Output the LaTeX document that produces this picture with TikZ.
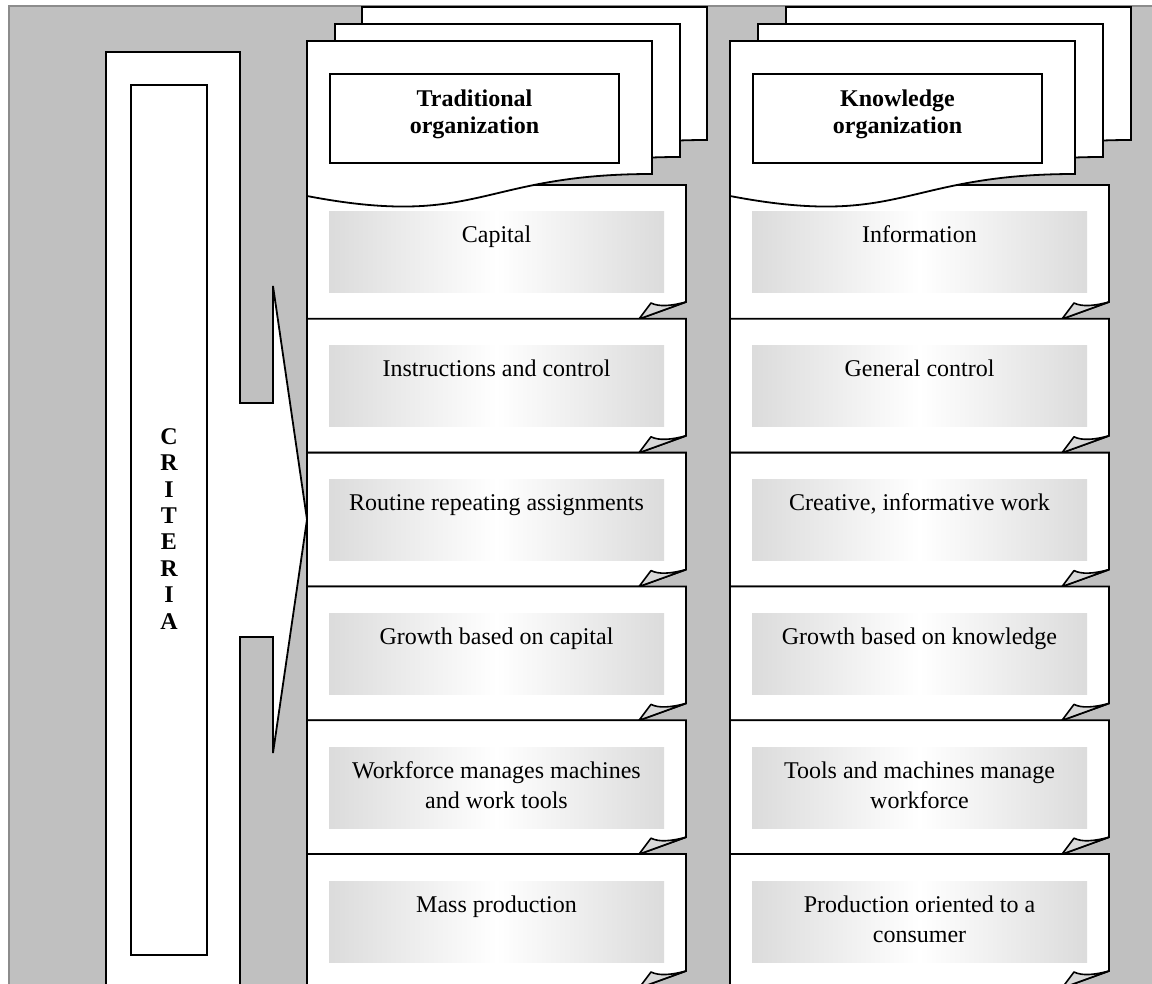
\documentclass[tikz,border=0pt]{standalone}
\usepackage{fontspec}
\setmainfont{Liberation Serif}
% #1 x, #2 top, #3 name, #4 baseline of last line (relative), #5 text
\newcommand\DocRow[5]{%
  \begin{scope}[shift={(#1,#2)}]
    \draw[pagestyle] (0,0) -- (379,0) -- (379,117) -- (332,134) -- (0,134) -- cycle;
    \path[cellshade] (22,27) rectangle (357,108);
    \draw[foldstyle] (332,134) -- (344,118) .. controls (352,122) and (364,121) .. (379,117) -- cycle;
    \node[celltext] (#3) at (189.5,#4) {#5};
  \end{scope}}
\newcommand\DocPage[2]{%
  \begin{scope}[shift={(#1,#2)}]
    \draw[pagestyle] (0,0) -- (345,0) -- (345,133) .. controls (172.5,133) and (172.5,188) .. (0,155) -- cycle;
  \end{scope}}
\begin{document}
\begin{tikzpicture}[x=0.5pt,y=-0.5pt,
  pagestyle/.style={draw=black, line width=0.9pt, fill=white, line join=miter},
  foldstyle/.style={draw=black, line width=0.8pt, fill=gray!30, line join=round},
  cellshade/.style={left color=gray!28, right color=gray!28, middle color=white},
  celltext/.style={font=\fontsize{12}{15}\selectfont, align=center, anchor=base, inner sep=0pt},
  titlebox/.style={draw=black, line width=0.9pt, fill=white},
  titletext/.style={font=\bfseries\fontsize{12}{13.5}\selectfont, align=center, anchor=base, inner sep=0pt},
  crittext/.style={font=\bfseries\fontsize{12}{13.2}\selectfont, align=center, anchor=base, inner sep=0pt}]
\useasboundingbox (0,0) rectangle (1152,984);
\clip (0,0) rectangle (1152,984);
\fill[white] (0,0) rectangle (1152,984);
% background
\fill[fill={rgb,255:red,192;green,192;blue,192}] (9,6) rectangle (1160,1000);
\draw[color={rgb,255:red,140;green,140;blue,140}, line width=0.6pt] (9,1000) -- (9,6) -- (1160,6);
% criteria shape
\draw[pagestyle] (106,52) -- (240,52) -- (240,403) -- (273,403) -- (273,286) -- (307,519.5)
  -- (273,753) -- (273,637) -- (240,637) -- (240,1000) -- (106,1000) -- cycle;
\draw[titlebox] (131,85) rectangle (207,955);
\node[crittext] (crit) at (169,629) {C\\R\\I\\T\\E\\R\\I\\A};
% rows, traditional
\DocRow{307}{185}{t1}{58}{Capital}
\DocRow{307}{318.8}{t2}{58}{Instructions and control}
\DocRow{307}{452.6}{t3}{58}{Routine repeating assignments}
\DocRow{307}{586.4}{t4}{58}{Growth based on capital}
\DocRow{307}{720.2}{t5}{88}{Workforce manages machines\\and work tools}
\DocRow{307}{854}{t6}{58}{Mass production}
% rows, knowledge
\DocRow{730}{185}{k1}{58}{Information}
\DocRow{730}{318.8}{k2}{58}{General control}
\DocRow{730}{452.6}{k3}{58}{Creative, informative work}
\DocRow{730}{586.4}{k4}{58}{Growth based on knowledge}
\DocRow{730}{720.2}{k5}{88}{Tools and machines manage\\workforce}
\DocRow{730}{854}{k6}{88}{Production oriented to a\\consumer}
% stacked pages
\DocPage{362}{7}
\DocPage{335}{24}
\DocPage{307}{41}
\DocPage{786}{7}
\DocPage{758}{24}
\DocPage{730}{41}
\draw[titlebox] (330,74) rectangle (619,163);
\draw[titlebox] (753,74) rectangle (1042,163);
\node[titletext] (trad) at (474.5,134) {Traditional\\organization};
\node[titletext] (know) at (897.5,134) {Knowledge\\organization};
\end{tikzpicture}
\end{document}
